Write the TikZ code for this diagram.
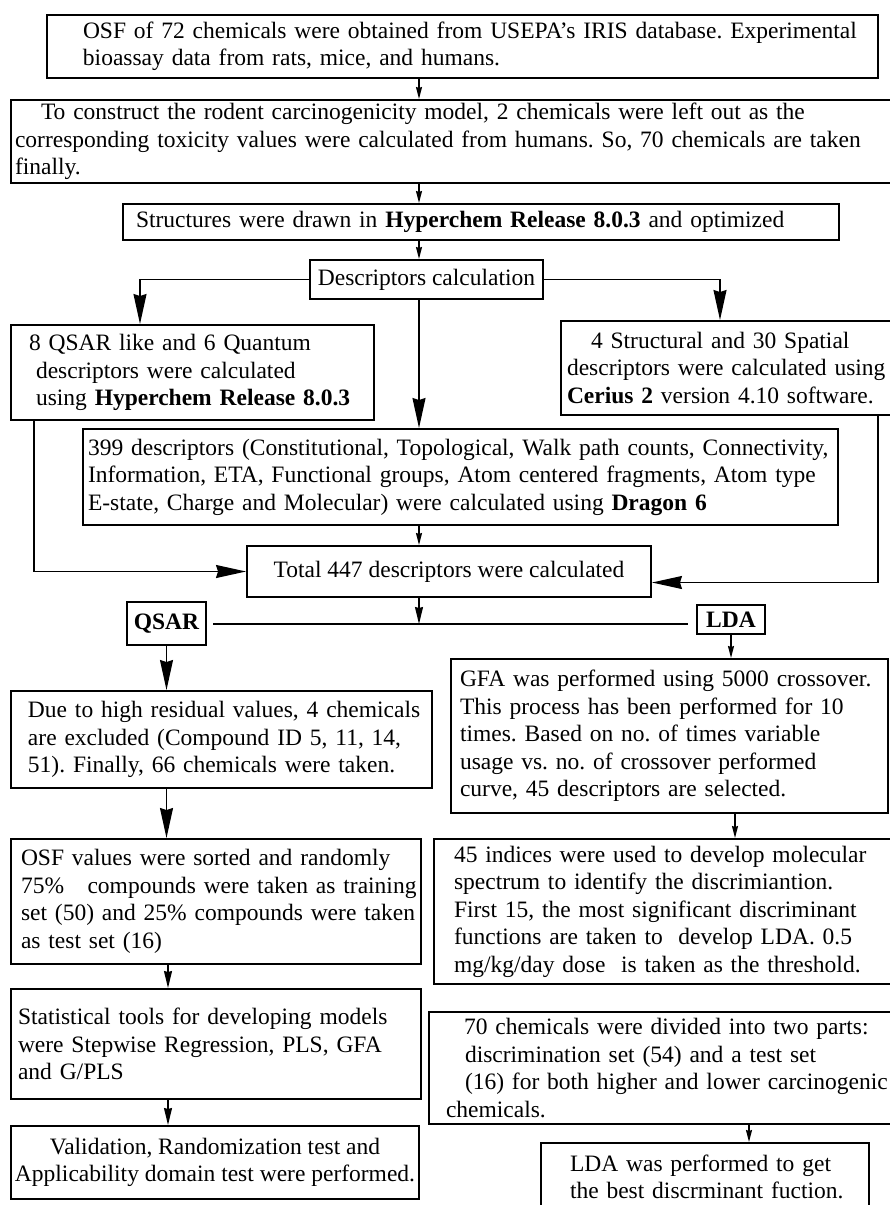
\documentclass[tikz,border=0pt]{standalone}
\usepackage{fontspec}
\setmainfont{Liberation Serif}
\usepackage{tikz}
\usetikzlibrary{
  arrows.meta,
  positioning,
  calc
}
\frenchspacing
\tikzset{
  stepbox/.style={
    draw, line width=2pt, anchor=north west, inner sep=0pt,
    font=\fontsize{23.5}{27.5}\selectfont
  },
  textbox/.style={stepbox, align=left, text width=#1},
  midbox/.style={stepbox, align=center},
  pad/.style={execute at begin node={\leftskip=#1pt\relax}},
  link/.style={line width=1.4pt},
  bigarrow/.style={link, -{Stealth[length=30pt, width=13pt, inset=2pt]}},
  midarrow/.style={link, -{Stealth[length=17pt, width=8pt, inset=1pt]}},
  smallarrow/.style={link, -{Stealth[length=12pt, width=6pt, inset=1pt]}}
}

\begin{document}
\begin{tikzpicture}[x=1pt, y=-1pt]
  \useasboundingbox (0,0) rectangle (890,1205);
  \clip (0,0) rectangle (890,1205);
  \coordinate (axis) at (419,0);
  \coordinate (lcol) at (140,0);
  \coordinate (rcol) at (720,0);
  \coordinate (lfar) at (34,0);
  \coordinate (rfar) at (878,0);
  \coordinate (qlane) at (168,0);
  \coordinate (glane) at (735,0);
  \coordinate (dlane) at (749,0);
  \coordinate (split) at (419,624);

  \node[textbox=831, pad=36, minimum height=63] (osf) at (46,14) {OSF of 72 chemicals were obtained from USEPA’s IRIS database. Experimental\\bioassay data from rats, mice, and humans.};
  \node[textbox=900, pad=4, minimum height=83] (rodent) at (10,99) {\hspace*{26pt}To construct the rodent carcinogenicity model, 2 chemicals were left out as the\\corresponding toxicity values were calculated from humans. So, 70 chemicals are taken\\finally.};
  \node[textbox=716, pad=13, minimum height=36] (struct) at (122,203) {Structures were drawn in \textbf{Hyperchem Release 8.0.3} and optimized};
  \node[midbox, minimum width=233, minimum height=39] (desc) at (309,259) {Descriptors calculation};
  \node[textbox=363, pad=18, minimum height=95] (hyper) at (10,324) {8 QSAR like and 6 Quantum\\\hspace*{7pt}descriptors were calculated\\\hspace*{7pt}using \textbf{Hyperchem Release 8.0.3}};
  \node[textbox=360, pad=6, minimum height=94] (cerius) at (560,320) {\hspace*{24pt}4 Structural and 30 Spatial\\descriptors were calculated using\\\textbf{Cerius 2} version 4.10 software.};
  \node[textbox=755, pad=5, minimum height=96] (dragon) at (82,428) {399 descriptors (Constitutional, Topological, Walk path counts, Connectivity,\\Information, ETA, Functional groups, Atom centered fragments, Atom type\\E-state, Charge and Molecular) were calculated using \textbf{Dragon 6}};
  \node[midbox, minimum width=404, minimum height=51] (total) at (246,545) {Total 447 descriptors were calculated};
  \node[midbox, minimum width=79, minimum height=43] (qsar) at (126,601) {\textbf{QSAR}};
  \node[midbox, minimum width=68, minimum height=29] (lda) at (696,604) {\textbf{LDA}};
  \node[textbox=421, pad=17, minimum height=97] (resid) at (10,690) {Due to high residual values, 4 chemicals\\are excluded (Compound ID 5, 11, 14,\\51). Finally, 66 chemicals were taken.};
  \node[textbox=437, pad=9, minimum height=154] (gfa) at (450,658) {GFA was performed using 5000 crossover.\\This process has been performed for 10\\times. Based on no. of times variable\\usage vs. no. of crossover performed\\curve, 45 descriptors are selected.};
  \node[textbox=410, pad=10, minimum height=125] (sorted) at (10,838) {OSF values were sorted and randomly\\75\%\ \ \ compounds were taken as training\\set (50) and 25\% compounds were taken\\as test set (16)};
  \node[textbox=477, pad=20, minimum height=145] (spectrum) at (433,838) {45 indices were used to develop molecular\\spectrum to identify the discrimiantion.\\First 15, the most significant discriminant\\functions are taken to\ \ develop LDA. 0.5\\mg/kg/day dose\ \ is taken as the threshold.};
  \node[textbox=410, pad=7, minimum height=110] (stat) at (10,988) {Statistical tools for developing models\\were Stepwise Regression, PLS, GFA\\and G/PLS};
  \node[midbox, minimum width=408, minimum height=73] (valid) at (10,1125) {Validation, Randomization test and\\Applicability domain test were performed.};
  \node[textbox=482, pad=17, minimum height=112] (divide) at (428,1011) {\hspace*{18pt}70 chemicals were divided into two parts:\\\hspace*{19pt}discrimination set (54) and a test set\\\hspace*{19pt}(16) for both higher and lower carcinogenic\\chemicals.};
  \node[textbox=328, pad=29, minimum height=68] (ldabest) at (540,1142) {LDA was performed to get\\the best discrminant fuction.};

  \draw[smallarrow] (osf.south -| axis) -- (rodent.north -| axis);
  \draw[smallarrow] (rodent.south -| axis) -- (struct.north -| axis);
  \draw[smallarrow] (struct.south -| axis) -- (desc.north -| axis);
  \draw[bigarrow] (desc.west) -| (hyper.north -| lcol);
  \draw[bigarrow] (desc.east) -| (cerius.north -| rcol);
  \draw[bigarrow] (desc.south -| axis) -- (dragon.north -| axis);
  \draw[smallarrow] (dragon.south -| axis) -- (total.north -| axis);
  \draw[bigarrow] (hyper.south -| lfar) |- (total.west);
  \draw[bigarrow] (cerius.south -| rfar) |- ($(total.east)+(0,11)$);
  \draw[midarrow] (total.south -| axis) -- (split);
  \draw[link] ($(qsar.east |- split)+(6,0)$) -- ($(lda.west |- split)+(-8,0)$);
  \draw[bigarrow] (qsar.south) -- (qsar.south |- resid.north);
  \draw[bigarrow] (resid.south -| qsar.south) -- (qsar.south |- sorted.north);
  \draw[smallarrow] (lda.south) -- (lda.south |- gfa.north);
  \draw[smallarrow] (gfa.south -| glane) -- (spectrum.north -| glane);
  \draw[midarrow] (sorted.south -| qlane) -- (stat.north -| qlane);
  \draw[midarrow] (stat.south -| qlane) -- (valid.north -| qlane);
  \draw[smallarrow] (divide.south -| dlane) -- (ldabest.north -| dlane);
\end{tikzpicture}
\end{document}
